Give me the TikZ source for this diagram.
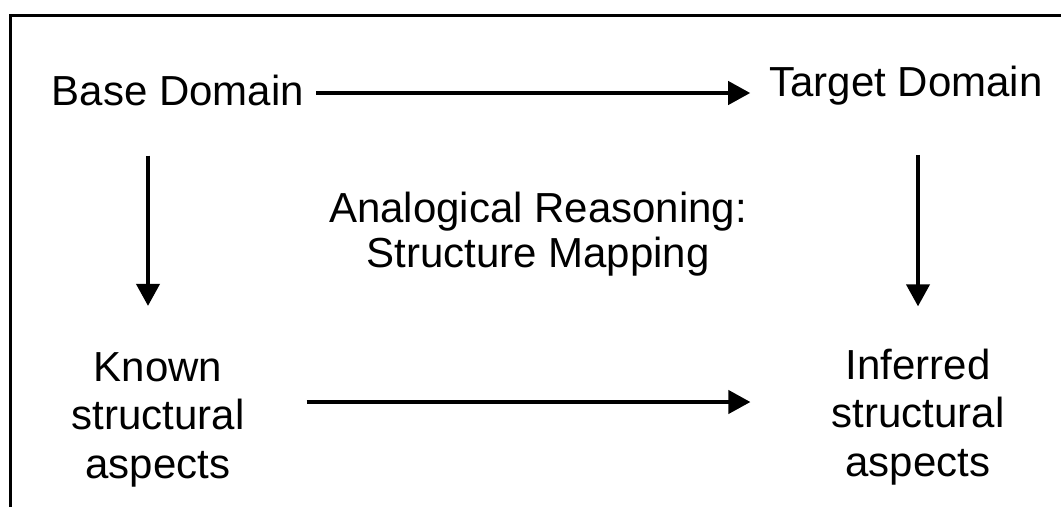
\documentclass[tikz,border=0pt]{standalone}
\usepackage{fontspec}
\setmainfont{Liberation Sans}
\usetikzlibrary{arrows.meta}
\begin{document}
\begin{tikzpicture}[x=1pt,y=-1pt,
  lbl/.style={inner sep=0pt,anchor=base,align=center,
    font=\fontsize{42}{48.5}\selectfont},
  arr/.style={line width=4pt,-{Triangle[length=22pt,width=23pt]}},
  frame/.style={line width=3pt}]
\useasboundingbox (0,0) rectangle (1061,507);
\fill[white] (0,0) rectangle (1061,507);
\draw[frame] (10.5,507) -- (10.5,15) -- (1061,15);
\node[lbl] (base) at (178,105) {Base Domain};
\node[lbl] (target) at (906,96) {Target Domain};
\node[lbl,font=\fontsize{42}{45}\selectfont] (analog) at (538,267) {Analogical Reasoning:\\Structure Mapping};
\node[lbl] (known) at (158,478) {Known\\structural\\aspects};
\node[lbl] (inferred) at (918,476) {Inferred\\structural\\aspects};
\coordinate (lx) at (148,0);
\coordinate (rx) at (918,0);
\coordinate (ty) at (0,93);
\coordinate (by) at (0,402);
\draw[arr,shorten <=12pt,shorten >=19pt] (base.east |- ty) -- (target.west |- ty);
\draw[arr,shorten <=50pt,shorten >=46pt] (base.south -| lx) -- (known.north -| lx);
\draw[arr,shorten <=50pt,shorten >=42pt] (target.south -| rx) -- (inferred.north -| rx);
\draw[arr,shorten <=62pt,shorten >=81pt] (known.east |- by) -- (inferred.west |- by);
\end{tikzpicture}
\end{document}
